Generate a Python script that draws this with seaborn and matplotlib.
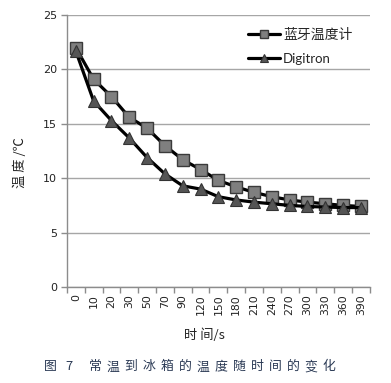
import numpy as np
import pandas as pd
import matplotlib
matplotlib.use("Agg")
import matplotlib.pyplot as plt
import seaborn as sns
from matplotlib.ticker import FixedLocator

times = ["0", "10", "20", "30", "50", "70", "90", "120", "150", "180",
         "210", "240", "270", "300", "330", "360", "390"]
bluetooth = [22.0, 19.1, 17.5, 15.6, 14.6, 13.0, 11.7, 10.8, 9.8, 9.2,
             8.7, 8.3, 8.0, 7.8, 7.65, 7.5, 7.4]
digitron = [21.7, 17.1, 15.3, 13.7, 11.9, 10.4, 9.3, 9.0, 8.3, 8.0,
            7.8, 7.65, 7.5, 7.4, 7.35, 7.3, 7.3]
series_names = ["蓝牙温度计", "Digitron"]
yticks = [0, 5, 10, 15, 20, 25]
caption_chars = ["图", "7", "常", "温", "到", "冰", "箱", "的", "温", "度", "随", "时", "间", "的", "变", "化"]

sns.set_theme(style="white")
plt.rcParams['font.family'] = ['DejaVu Sans', 'Noto Sans CJK SC']

df1 = pd.DataFrame({"time": times, "temp": bluetooth})
df2 = pd.DataFrame({"time": times, "temp": digitron})

fig = plt.figure(figsize=(3.91, 3.83), dpi=100)
ax = fig.add_axes([0.171, 0.2507, 0.775, 0.710])

sns.lineplot(data=df1, x="time", y="temp", ax=ax, color="black", linewidth=2.3,
             marker="s", markersize=8, markerfacecolor="#7f7f7f",
             markeredgecolor="#3a3a3a", markeredgewidth=1.0, label=series_names[0])
sns.lineplot(data=df2, x="time", y="temp", ax=ax, color="black", linewidth=2.3,
             marker="^", markersize=8.5, markerfacecolor="#555555",
             markeredgecolor="#333333", markeredgewidth=0.8, label=series_names[1])

ax.set_ylim(0, 25)
ax.set_xlim(-0.5, len(times) - 0.5)
ax.set_yticks(yticks)
ax.set_yticklabels([str(v) for v in yticks], fontsize=8, color="#222222")
ax.set_xticks(range(len(times)))
ax.set_xticklabels(times, rotation=90, fontsize=7.8, color="#222222")
ax.xaxis.set_minor_locator(FixedLocator(np.arange(-0.5, len(times), 1.0)))
ax.tick_params(axis="x", which="major", length=0, pad=5)
ax.tick_params(axis="x", which="minor", length=4, width=1, color="#8c8c8c", direction="out", bottom=True)
ax.tick_params(axis="y", which="major", length=4, width=1, color="#8c8c8c", direction="out", left=True, pad=3)

ax.grid(axis="y", color="#a6a6a6", linewidth=1)
ax.grid(axis="x", visible=False)
ax.set_axisbelow(True)
for s in ["top", "right"]:
    ax.spines[s].set_visible(False)
for s in ["left", "bottom"]:
    ax.spines[s].set_color("#8c8c8c")
    ax.spines[s].set_linewidth(1)

ax.set_xlabel("")
ax.set_ylabel("")
fig.text(0.052, 0.575, "温 度 /℃", rotation=90, ha="center", va="center",
         fontsize=9.5, family=['Noto Sans CJK SC', 'DejaVu Sans'], color="#222222")
fig.text(0.522, 0.125, "时 间/s", ha="center", va="center",
         fontsize=9.5, family=['Noto Sans CJK SC', 'DejaVu Sans'], color="#222222")

# caption, characters spaced like the reference
xs = [50, 68.5] + [95 + 18.0 * i for i in range(len(caption_chars) - 2)]
for ch, xp in zip(caption_chars, xs):
    fig.text(xp / 391, 0.042, ch, ha="center", va="center", fontsize=9.3,
             family=['Noto Sans CJK SC', 'DejaVu Sans'], color="#2b3a55")

leg = ax.legend(loc="upper right", bbox_to_anchor=(0.975, 0.99), frameon=False,
                prop={"family": ['Noto Sans CJK SC', 'DejaVu Sans'], "size": 10},
                handlelength=2.3, handletextpad=0.2, labelspacing=0.8, borderaxespad=0.3)
for h in leg.legend_handles:
    h.set_markersize(6)
legtexts = leg.get_texts()
legtexts[1].set_fontfamily(['Lato', 'DejaVu Sans'])
legtexts[1].set_fontsize(9.5)

fig.savefig("out.png", dpi=100)
